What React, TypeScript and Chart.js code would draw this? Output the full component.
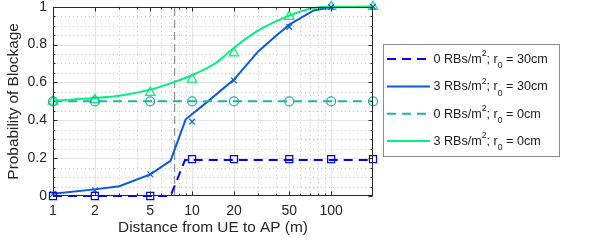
import React, { useEffect, useRef } from 'react';
import { Chart, registerables } from 'chart.js';

Chart.register(...registerables);

// ---- data ----
const xTicks = [1, 2, 5, 10, 20, 50, 100];
const xMinorTicks = [3, 4, 6, 7, 8, 9, 30, 40, 60, 70, 80, 90];
const yTicks = [0, 0.2, 0.4, 0.6, 0.8, 1];
const xMin = 1;
const xMax = 200;

const markerX = [1, 2, 5, 10, 20, 50, 100, 200];

// 0 RBs/m^2; r0 = 30cm
const s1LineX = [1, 7, 8.9, 200];
const s1LineY = [0, 0, 0.19, 0.19];
const s1MarkY = [0, 0, 0, 0.195, 0.195, 0.195, 0.195, 0.195];

// 3 RBs/m^2; r0 = 30cm
const s2LineX = [1, 2, 3, 5, 7, 9, 13, 20, 30, 40, 50, 75, 100, 200];
const s2LineY = [0.012, 0.035, 0.052, 0.114, 0.186, 0.405, 0.5, 0.615, 0.765, 0.845, 0.905, 0.98, 0.997, 1];
const s2MarkY = [0.01, 0.03, 0.115, 0.393, 0.61, 0.893, 0.998, 1];

// 0 RBs/m^2; r0 = 0cm
const s3LineX = [1, 200];
const s3LineY = [0.5, 0.5];
const s3MarkY = [0.5, 0.5, 0.5, 0.5, 0.5, 0.5, 0.5, 0.5];

// 3 RBs/m^2; r0 = 0cm
const s4LineX = [1, 2, 3, 5, 7.5, 10, 15, 20, 30, 50, 75, 100, 200];
const s4LineY = [0.503, 0.518, 0.53, 0.562, 0.603, 0.638, 0.705, 0.783, 0.875, 0.953, 0.993, 1, 1];
const s4MarkY = [0.5, 0.508, 0.546, 0.616, 0.755, 0.948, 1, 1];

const refLineX = [7.5, 7.5];
const refLineY = [0, 1];

const legendDensity = ['0', '3', '0', '3'];
const legendR0 = ['30cm', '30cm', '0cm', '0cm'];

const xTitle = 'Distance from UE to AP (m)';
const yTitle = 'Probability of Blockage';

// ---- styles ----
const FONT = '"Liberation Sans", Arial, Helvetica, sans-serif';
const TEXT = '#262626';
const C1 = '#0000ff';
const C2 = '#0a5cd6';
const C3 = '#20b2aa';
const C4 = '#00f07c';

const pts = (xs: number[], ys: number[]) => xs.map((x, i) => ({ x, y: ys[i] }));

const gridPlugin = {
  id: 'matlabGrid',
  beforeDatasetsDraw(chart: any) {
    const { ctx, chartArea, scales } = chart;
    const { left, right, top, bottom } = chartArea;
    const xs = scales.x;
    const ys = scales.y;
    ctx.save();
    // minor dotted
    ctx.strokeStyle = '#c4c4c4';
    ctx.lineWidth = 1;
    ctx.setLineDash([1, 3]);
    for (const v of xMinorTicks) {
      const px = Math.round(xs.getPixelForValue(v)) + 0.5;
      ctx.beginPath();
      ctx.moveTo(px, top);
      ctx.lineTo(px, bottom);
      ctx.stroke();
    }
    for (let i = 1; i < 20; i++) {
      if (i % 4 === 0) continue;
      const py = Math.round(ys.getPixelForValue(i * 0.05)) + 0.5;
      ctx.beginPath();
      ctx.moveTo(left, py);
      ctx.lineTo(right, py);
      ctx.stroke();
    }
    // major solid
    ctx.setLineDash([]);
    ctx.strokeStyle = '#e3e3e3';
    for (const v of xTicks) {
      if (v === xMin) continue;
      const px = Math.round(xs.getPixelForValue(v)) + 0.5;
      ctx.beginPath();
      ctx.moveTo(px, top);
      ctx.lineTo(px, bottom);
      ctx.stroke();
    }
    for (const v of yTicks) {
      if (v === 0 || v === 1) continue;
      const py = Math.round(ys.getPixelForValue(v)) + 0.5;
      ctx.beginPath();
      ctx.moveTo(left, py);
      ctx.lineTo(right, py);
      ctx.stroke();
    }
    ctx.restore();
  },
  afterDatasetsDraw(chart: any) {
    const { ctx, chartArea, scales } = chart;
    const { left, right, top, bottom } = chartArea;
    const xs = scales.x;
    const ys = scales.y;
    ctx.save();
    ctx.strokeStyle = TEXT;
    ctx.lineWidth = 1;
    ctx.setLineDash([]);
    const L = Math.round(left) + 0.5;
    const R = Math.round(right) - 0.5;
    const T = Math.round(top) + 0.5;
    const B = Math.round(bottom) - 0.5;
    ctx.strokeRect(L, T, R - L, B - T);
    const tick = (x1: number, y1: number, x2: number, y2: number) => {
      ctx.beginPath();
      ctx.moveTo(x1, y1);
      ctx.lineTo(x2, y2);
      ctx.stroke();
    };
    const major = 4;
    const minor = 2;
    for (const v of xTicks) {
      const px = Math.round(xs.getPixelForValue(v)) + 0.5;
      tick(px, B, px, B - major);
      tick(px, T, px, T + major);
    }
    for (const v of xMinorTicks) {
      const px = Math.round(xs.getPixelForValue(v)) + 0.5;
      tick(px, B, px, B - minor);
      tick(px, T, px, T + minor);
    }
    for (const v of yTicks) {
      const py = Math.round(ys.getPixelForValue(v)) + 0.5;
      tick(L, py, L + major, py);
      tick(R, py, R - major, py);
    }
    for (let i = 1; i < 20; i++) {
      if (i % 4 === 0) continue;
      const py = Math.round(ys.getPixelForValue(i * 0.05)) + 0.5;
      tick(L, py, L + minor, py);
      tick(R, py, R - minor, py);
    }
    ctx.restore();
  },
};

const legendPlugin = {
  id: 'matlabLegend',
  afterDraw(chart: any) {
    const { ctx } = chart;
    const bx = 383.5;
    const by = 44.5;
    const bw = 176;
    const bh = 112;
    ctx.save();
    ctx.fillStyle = '#ffffff';
    ctx.fillRect(bx, by, bw, bh);
    ctx.strokeStyle = '#8c8c8c';
    ctx.lineWidth = 1;
    ctx.setLineDash([]);
    ctx.strokeRect(bx, by, bw, bh);
    const rowY = [59, 86.5, 113.7, 141];
    const lineDs = chart.data.datasets.filter((d: any) => d.legendIndex !== undefined);
    lineDs.sort((a: any, b: any) => a.legendIndex - b.legendIndex);
    lineDs.forEach((ds: any, i: number) => {
      const yy = rowY[i];
      ctx.strokeStyle = ds.borderColor;
      ctx.lineWidth = ds.borderWidth;
      ctx.setLineDash(ds.borderDash || []);
      ctx.beginPath();
      ctx.moveTo(387, yy);
      ctx.lineTo(430, yy);
      ctx.stroke();
      ctx.setLineDash([]);
      const base = yy + 3.8;
      let x = 433.5;
      ctx.fillStyle = '#1a1a1a';
      ctx.textBaseline = 'alphabetic';
      ctx.textAlign = 'left';
      const main = `12.6px ${FONT}`;
      const small = `8.6px ${FONT}`;
      const put = (t: string, font: string, dy: number) => {
        ctx.font = font;
        ctx.fillText(t, x, base + dy);
        x += ctx.measureText(t).width;
      };
      put(`${legendDensity[i]} RBs/m`, main, 0);
      put('2', small, -6.5);
      put('; r', main, 0);
      put('0', small, 5.5);
      put(` = ${legendR0[i]}`, main, 0);
    });
    ctx.restore();
  },
};

export default function App() {
  const ref = useRef<HTMLCanvasElement | null>(null);
  useEffect(() => {
    document.body.style.margin = '0';
    if (!ref.current) return;
    const markerBase = { showLine: false, borderWidth: 1.2, clip: false as any, pointHoverRadius: 0 };
    const chart = new Chart(ref.current, {
      type: 'line',
      data: {
        datasets: [
          { ...markerBase, data: pts(markerX, s1MarkY), pointStyle: 'rect', pointRadius: 5, borderColor: C1, backgroundColor: 'transparent', pointBackgroundColor: 'rgba(0,0,0,0)', pointBorderColor: C1 },
          { ...markerBase, data: pts(markerX, s2MarkY), pointStyle: 'crossRot', pointRadius: 4, borderColor: C2, pointBorderColor: C2 },
          { ...markerBase, data: pts(markerX, s3MarkY), pointStyle: 'circle', pointRadius: 4.5, borderColor: C3, pointBackgroundColor: 'rgba(0,0,0,0)', pointBorderColor: C3 },
          { ...markerBase, data: pts(markerX, s4MarkY), pointStyle: 'triangle', pointRadius: 5.5, borderColor: C4, pointBackgroundColor: 'rgba(0,0,0,0)', pointBorderColor: C4 },
          { legendIndex: 3, data: pts(s4LineX, s4LineY), borderColor: C4, borderWidth: 2, pointRadius: 0, cubicInterpolationMode: 'monotone', clip: false as any, fill: false } as any,
          { legendIndex: 2, data: pts(s3LineX, s3LineY), borderColor: C3, borderWidth: 2, borderDash: [9, 6], pointRadius: 0, clip: false as any, fill: false } as any,
          { legendIndex: 1, data: pts(s2LineX, s2LineY), borderColor: C2, borderWidth: 2, pointRadius: 0, tension: 0, clip: false as any, fill: false } as any,
          { legendIndex: 0, data: pts(s1LineX, s1LineY), borderColor: C1, borderWidth: 2, borderDash: [9, 6], pointRadius: 0, tension: 0, clip: false as any, fill: false } as any,
          { data: pts(refLineX, refLineY), borderColor: '#7a7a7a', borderWidth: 1, borderDash: [8, 4], pointRadius: 0, fill: false },
        ],
      },
      options: {
        responsive: false,
        animation: false,
        devicePixelRatio: 1,
        events: [],
        layout: { padding: { left: 0, right: 225, top: 5, bottom: 0 } },
        plugins: { legend: { display: false }, tooltip: { enabled: false }, title: { display: false } },
        scales: {
          x: {
            type: 'logarithmic',
            min: xMin,
            max: xMax,
            grid: { display: false, drawTicks: false },
            border: { display: false },
            afterBuildTicks: (s: any) => { s.ticks = xTicks.map((v) => ({ value: v })); },
            afterFit: (s: any) => { s.height = 48; s.paddingLeft = 0; s.paddingRight = 0; },
            ticks: {
              autoSkip: false,
              maxRotation: 0,
              minRotation: 0,
              padding: 7,
              color: TEXT,
              font: { family: FONT, size: 14 },
              callback: (v: any) => String(v),
            },
            title: {
              display: true,
              text: xTitle,
              color: TEXT,
              font: { family: FONT, size: 15.4 },
              padding: { top: 0, bottom: 7 },
            },
          },
          y: {
            type: 'linear',
            min: 0,
            max: 1,
            grid: { display: false, drawTicks: false },
            border: { display: false },
            afterBuildTicks: (s: any) => { s.ticks = yTicks.map((v) => ({ value: v })); },
            afterFit: (s: any) => { s.width = 53; s.paddingTop = 0; s.paddingBottom = 0; },
            ticks: {
              padding: 6,
              color: TEXT,
              font: { family: FONT, size: 14 },
              callback: (v: any) => (v === 0 || v === 1 ? String(v) : Number(v).toFixed(1)),
            },
            title: {
              display: true,
              text: yTitle,
              color: TEXT,
              font: { family: FONT, size: 15.4 },
              padding: { top: 5, bottom: 0 },
            },
          },
        },
      },
      plugins: [gridPlugin, legendPlugin],
    } as any);
    return () => chart.destroy();
  }, []);
  return <canvas ref={ref} width={598} height={244} style={{ display: 'block' }} />;
}
